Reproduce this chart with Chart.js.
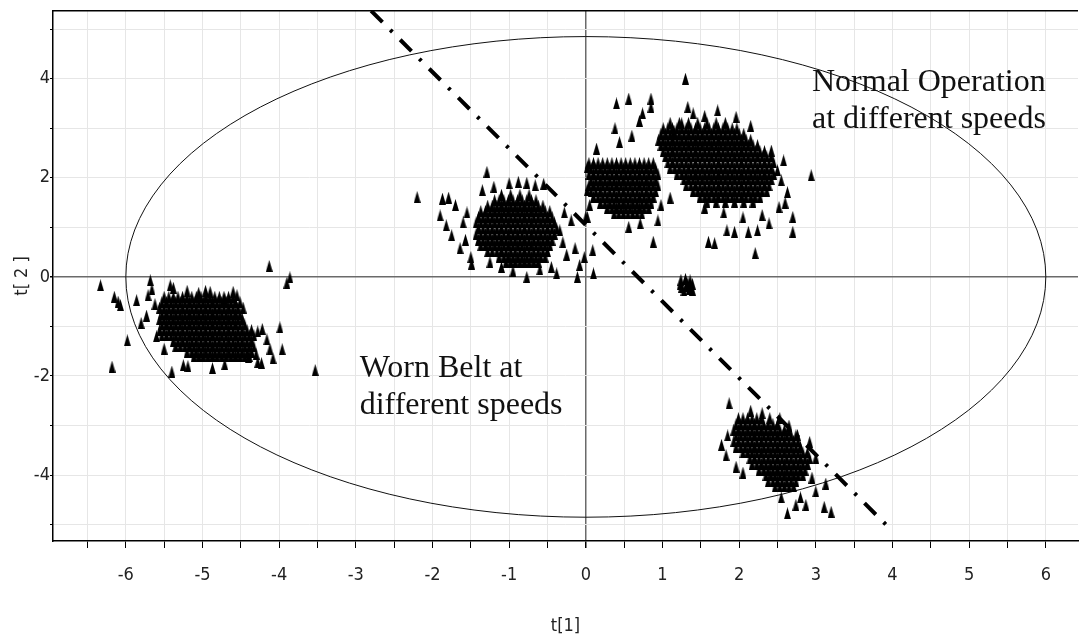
<!DOCTYPE html>
<html>
<head>
<meta charset="utf-8">
<title>t[1] / t[2] score plot</title>
<script src="https://cdn.jsdelivr.net/npm/chart.js@4/dist/chart.umd.min.js"></script>
<style>
  html, body { margin: 0; padding: 0; background: #fff; }
  #scoreChart { display: block; }
</style>
</head>
<body>
<canvas id="scoreChart" width="1083" height="637"></canvas>
<script>
// Datos: cada fila = [y, x1, x2, ...]
var wornLeftRows = [
  [-0.40, -5.50,-5.44,-5.38,-5.32,-5.26,-5.20,-5.14,-5.08,-5.02,-4.96,-4.90,-4.84,-4.78,-4.72,-4.66,-4.60],
  [-0.51, -5.53,-5.47,-5.41,-5.35,-5.29,-5.23,-5.17,-5.11,-5.05,-4.99,-4.93,-4.87,-4.81,-4.75,-4.69,-4.63,-4.57,-4.51],
  [-0.62, -5.56,-5.50,-5.44,-5.38,-5.32,-5.26,-5.20,-5.14,-5.08,-5.02,-4.96,-4.90,-4.84,-4.78,-4.72,-4.66,-4.60,-4.54],
  [-0.74, -5.53,-5.47,-5.41,-5.35,-5.29,-5.23,-5.17,-5.11,-5.05,-4.99,-4.93,-4.87,-4.81,-4.75,-4.69,-4.63,-4.57,-4.51],
  [-0.85, -5.56,-5.50,-5.44,-5.38,-5.32,-5.26,-5.20,-5.14,-5.08,-5.02,-4.96,-4.90,-4.84,-4.78,-4.72,-4.66,-4.60,-4.54,-4.48],
  [-0.96, -5.53,-5.47,-5.41,-5.35,-5.29,-5.23,-5.17,-5.11,-5.05,-4.99,-4.93,-4.87,-4.81,-4.75,-4.69,-4.63,-4.57,-4.51,-4.45],
  [-1.07, -5.56,-5.50,-5.44,-5.38,-5.32,-5.26,-5.20,-5.14,-5.08,-5.02,-4.96,-4.90,-4.84,-4.78,-4.72,-4.66,-4.60,-4.54,-4.48,-4.42,-4.36],
  [-1.18, -5.53,-5.47,-5.41,-5.35,-5.29,-5.23,-5.17,-5.11,-5.05,-4.99,-4.93,-4.87,-4.81,-4.75,-4.69,-4.63,-4.57,-4.51,-4.45,-4.39,-4.33],
  [-1.29, -5.38,-5.32,-5.26,-5.20,-5.14,-5.08,-5.02,-4.96,-4.90,-4.84,-4.78,-4.72,-4.66,-4.60,-4.54,-4.48,-4.42,-4.36],
  [-1.40, -5.35,-5.29,-5.23,-5.17,-5.11,-5.05,-4.99,-4.93,-4.87,-4.81,-4.75,-4.69,-4.63,-4.57,-4.51,-4.45,-4.39,-4.33],
  [-1.51, -5.20,-5.14,-5.08,-5.02,-4.96,-4.90,-4.84,-4.78,-4.72,-4.66,-4.60,-4.54,-4.48,-4.42,-4.36],
  [-1.60, -5.11,-5.05,-4.99,-4.93,-4.87,-4.81,-4.75,-4.69,-4.63,-4.57,-4.51,-4.45,-4.39]
];
var wornLeftScatter = [
  [-6.33,-0.17],[-6.15,-0.40],[-6.10,-0.50],[-6.07,-0.57],[-6.18,-1.81],[-5.98,-1.28],
  [-5.86,-0.47],[-5.80,-0.93],[-5.73,-0.78],[-5.68,-0.07],[-5.66,-0.25],[-5.71,-0.37],
  [-5.62,-0.55],[-5.40,-1.91],[-5.42,-0.17],[-5.38,-0.22],[-4.13,0.22],[-3.90,-0.12],
  [-3.86,-0.01],[-3.99,-1.02],[-3.96,-1.46],[-3.53,-1.88],[-4.08,-1.64],[-4.16,-1.26],
  [-4.23,-1.74],[-4.28,-1.10],[-4.22,-1.05],[-4.55,-0.37],[-4.60,-0.30],[-4.71,-0.45],
  [-4.90,-0.30],[-4.96,-0.28],[-4.47,-0.62],[-4.87,-1.84],[-5.19,-1.80],[-5.25,-1.78],
  [-4.71,-1.76],[-4.28,-1.72],[-4.12,-1.45],[-4.30,-1.55],[-5.60,-1.20],[-5.50,-1.45],
  [-5.05,-0.32],[-5.20,-0.28],[-4.40,-1.62]
];
var wornMidRows = [
  [1.66, -1.10,-0.98,-0.86,-0.74],
  [1.55, -1.19,-1.13,-1.07,-1.01,-0.95,-0.89,-0.83,-0.77,-0.71,-0.65],
  [1.44, -1.28,-1.22,-1.16,-1.10,-1.04,-0.98,-0.92,-0.86,-0.80,-0.74,-0.68,-0.62,-0.56],
  [1.33, -1.37,-1.31,-1.25,-1.19,-1.13,-1.07,-1.01,-0.95,-0.89,-0.83,-0.77,-0.71,-0.65,-0.59,-0.53,-0.47],
  [1.21, -1.40,-1.34,-1.28,-1.22,-1.16,-1.10,-1.04,-0.98,-0.92,-0.86,-0.80,-0.74,-0.68,-0.62,-0.56,-0.50,-0.44],
  [1.10, -1.43,-1.37,-1.31,-1.25,-1.19,-1.13,-1.07,-1.01,-0.95,-0.89,-0.83,-0.77,-0.71,-0.65,-0.59,-0.53,-0.47,-0.41],
  [0.98, -1.40,-1.34,-1.28,-1.22,-1.16,-1.10,-1.04,-0.98,-0.92,-0.86,-0.80,-0.74,-0.68,-0.62,-0.56,-0.50,-0.44,-0.38],
  [0.87, -1.43,-1.37,-1.31,-1.25,-1.19,-1.13,-1.07,-1.01,-0.95,-0.89,-0.83,-0.77,-0.71,-0.65,-0.59,-0.53,-0.47,-0.41],
  [0.75, -1.40,-1.34,-1.28,-1.22,-1.16,-1.10,-1.04,-0.98,-0.92,-0.86,-0.80,-0.74,-0.68,-0.62,-0.56,-0.50,-0.44],
  [0.64, -1.37,-1.31,-1.25,-1.19,-1.13,-1.07,-1.01,-0.95,-0.89,-0.83,-0.77,-0.71,-0.65,-0.59,-0.53,-0.47],
  [0.52, -1.28,-1.22,-1.16,-1.10,-1.04,-0.98,-0.92,-0.86,-0.80,-0.74,-0.68,-0.62,-0.56,-0.50],
  [0.41, -1.13,-1.07,-1.01,-0.95,-0.89,-0.83,-0.77,-0.71,-0.65,-0.59,-0.53],
  [0.31, -1.04,-0.98,-0.92,-0.86,-0.80,-0.74,-0.68,-0.62]
];
var wornMidScatter = [
  [-2.20,1.61],[-1.87,1.58],[-1.79,1.60],[-1.90,1.24],[-1.82,1.04],[-1.75,0.84],
  [-1.64,0.58],[-1.50,0.40],[-1.49,0.27],[-1.29,2.12],[-1.00,1.89],[-0.88,1.92],
  [-0.77,1.90],[-0.66,1.85],[-0.55,1.88],[-0.77,0.00],[-0.38,0.07],[-0.11,0.00],
  [-0.02,0.40],[0.09,0.54],[0.10,0.07],[0.02,1.21],[-0.08,0.24],[-0.14,0.58],
  [-0.19,1.14],[-0.34,0.94],[-0.28,1.30],[-0.30,0.70],[-0.25,0.45],[-1.55,1.30],
  [-1.60,1.10],[-1.57,0.75],[-1.35,1.75],[-1.20,1.82],[-1.10,0.20],[-0.95,0.12],
  [-0.60,0.15],[-0.45,0.20],[-1.70,1.45],[-1.25,0.30]
];
var wornLowRows = [
  [-2.85, 1.99,2.05,2.11,2.17,2.23,2.29],
  [-2.97, 1.96,2.02,2.08,2.14,2.20,2.26,2.32,2.38,2.44,2.50],
  [-3.08, 1.93,1.99,2.05,2.11,2.17,2.23,2.29,2.35,2.41,2.47,2.53,2.59,2.65],
  [-3.20, 1.96,2.02,2.08,2.14,2.20,2.26,2.32,2.38,2.44,2.50,2.56,2.62,2.68,2.74],
  [-3.31, 1.93,1.99,2.05,2.11,2.17,2.23,2.29,2.35,2.41,2.47,2.53,2.59,2.65,2.71,2.77],
  [-3.43, 1.96,2.02,2.08,2.14,2.20,2.26,2.32,2.38,2.44,2.50,2.56,2.62,2.68,2.74,2.80],
  [-3.54, 2.05,2.11,2.17,2.23,2.29,2.35,2.41,2.47,2.53,2.59,2.65,2.71,2.77,2.83,2.89],
  [-3.66, 2.14,2.20,2.26,2.32,2.38,2.44,2.50,2.56,2.62,2.68,2.74,2.80,2.86,2.92],
  [-3.77, 2.17,2.23,2.29,2.35,2.41,2.47,2.53,2.59,2.65,2.71,2.77,2.83,2.89],
  [-3.89, 2.26,2.32,2.38,2.44,2.50,2.56,2.62,2.68,2.74,2.80,2.86],
  [-4.00, 2.35,2.41,2.47,2.53,2.59,2.65,2.71,2.77,2.83],
  [-4.12, 2.38,2.44,2.50,2.56,2.62,2.68,2.74],
  [-4.23, 2.47,2.53,2.59,2.65,2.71]
];
var wornLowScatter = [
  [1.87,-2.55],[1.77,-3.39],[1.83,-3.60],[1.96,-3.83],[2.63,-4.77],[2.87,-4.60],
  [3.11,-4.64],[3.20,-4.74],[3.00,-4.33],[3.13,-4.17],[2.53,-2.85],[2.40,-2.85],
  [2.76,-3.19],[2.92,-3.33],[3.00,-3.65],[2.74,-4.60],[2.15,-2.70],[2.55,-4.45],
  [2.80,-4.45],[1.85,-3.20],[2.05,-3.95],[2.95,-4.05],[2.30,-2.75],[2.65,-3.00]
];
var normalLeftRows = [
  [2.30, 0.04,0.10,0.16,0.22,0.28,0.34,0.40,0.46,0.52,0.58,0.64,0.70,0.76,0.82,0.88],
  [2.19, 0.07,0.13,0.19,0.25,0.31,0.37,0.43,0.49,0.55,0.61,0.67,0.73,0.79,0.85,0.91],
  [2.08, 0.04,0.10,0.16,0.22,0.28,0.34,0.40,0.46,0.52,0.58,0.64,0.70,0.76,0.82,0.88,0.94],
  [1.96, 0.07,0.13,0.19,0.25,0.31,0.37,0.43,0.49,0.55,0.61,0.67,0.73,0.79,0.85,0.91],
  [1.85, 0.04,0.10,0.16,0.22,0.28,0.34,0.40,0.46,0.52,0.58,0.64,0.70,0.76,0.82,0.88,0.94],
  [1.73, 0.07,0.13,0.19,0.25,0.31,0.37,0.43,0.49,0.55,0.61,0.67,0.73,0.79,0.85,0.91],
  [1.62, 0.10,0.16,0.22,0.28,0.34,0.40,0.46,0.52,0.58,0.64,0.70,0.76,0.82,0.88],
  [1.50, 0.19,0.25,0.31,0.37,0.43,0.49,0.55,0.61,0.67,0.73,0.79,0.85],
  [1.39, 0.28,0.34,0.40,0.46,0.52,0.58,0.64,0.70,0.76,0.82],
  [1.28, 0.37,0.43,0.49,0.55,0.61,0.67,0.73]
];
var normalRightRows = [
  [3.11, 1.10,1.22,1.34,1.46,1.58,1.70,1.82],
  [3.00, 1.01,1.07,1.13,1.19,1.25,1.31,1.37,1.43,1.49,1.55,1.61,1.67,1.73,1.79,1.85,1.91,1.97],
  [2.89, 0.98,1.04,1.10,1.16,1.22,1.28,1.34,1.40,1.46,1.52,1.58,1.64,1.70,1.76,1.82,1.88,1.94,2.00,2.06],
  [2.77, 0.95,1.01,1.07,1.13,1.19,1.25,1.31,1.37,1.43,1.49,1.55,1.61,1.67,1.73,1.79,1.85,1.91,1.97,2.03,2.09,2.15],
  [2.66, 0.98,1.04,1.10,1.16,1.22,1.28,1.34,1.40,1.46,1.52,1.58,1.64,1.70,1.76,1.82,1.88,1.94,2.00,2.06,2.12,2.18,2.24],
  [2.54, 1.01,1.07,1.13,1.19,1.25,1.31,1.37,1.43,1.49,1.55,1.61,1.67,1.73,1.79,1.85,1.91,1.97,2.03,2.09,2.15,2.21,2.27,2.33],
  [2.43, 1.04,1.10,1.16,1.22,1.28,1.34,1.40,1.46,1.52,1.58,1.64,1.70,1.76,1.82,1.88,1.94,2.00,2.06,2.12,2.18,2.24,2.30,2.36,2.42],
  [2.31, 1.07,1.13,1.19,1.25,1.31,1.37,1.43,1.49,1.55,1.61,1.67,1.73,1.79,1.85,1.91,1.97,2.03,2.09,2.15,2.21,2.27,2.33,2.39,2.45],
  [2.20, 1.10,1.16,1.22,1.28,1.34,1.40,1.46,1.52,1.58,1.64,1.70,1.76,1.82,1.88,1.94,2.00,2.06,2.12,2.18,2.24,2.30,2.36,2.42],
  [2.08, 1.19,1.25,1.31,1.37,1.43,1.49,1.55,1.61,1.67,1.73,1.79,1.85,1.91,1.97,2.03,2.09,2.15,2.21,2.27,2.33,2.39,2.45],
  [1.97, 1.28,1.34,1.40,1.46,1.52,1.58,1.64,1.70,1.76,1.82,1.88,1.94,2.00,2.06,2.12,2.18,2.24,2.30,2.36,2.42],
  [1.85, 1.31,1.37,1.43,1.49,1.55,1.61,1.67,1.73,1.79,1.85,1.91,1.97,2.03,2.09,2.15,2.21,2.27,2.33,2.39],
  [1.74, 1.40,1.46,1.52,1.58,1.64,1.70,1.76,1.82,1.88,1.94,2.00,2.06,2.12,2.18,2.24,2.30,2.36],
  [1.62, 1.49,1.55,1.61,1.67,1.73,1.79,1.85,1.91,1.97,2.03,2.09,2.15,2.21,2.27],
  [1.52, 1.58,1.70,1.82,1.94,2.06,2.18]
];
var normalScatter = [
  [0.40,3.50],[0.56,3.60],[0.85,3.60],[0.85,3.43],[0.74,3.30],[0.70,3.15],[0.38,3.00],
  [0.44,2.72],[0.60,2.85],[0.14,2.59],[0.02,2.22],[0.88,0.71],[0.00,1.21],[0.56,1.01],
  [0.71,1.08],[0.94,1.14],[0.05,1.45],[0.02,1.75],[1.30,4.00],[1.33,3.43],[1.40,3.30],
  [1.55,3.25],[1.72,3.36],[1.96,3.23],[2.15,3.05],[2.94,2.05],[2.70,1.21],[2.70,0.91],
  [2.58,2.35],[2.63,1.71],[2.55,1.95],[2.21,0.48],[1.60,0.71],[1.68,0.68],[1.84,0.94],
  [1.94,0.91],[2.12,0.91],[2.24,0.94],[2.39,1.08],[2.52,1.41],[2.42,2.55],[2.50,2.15],
  [2.60,1.50],[2.30,1.25],[2.05,1.20],[1.80,1.30],[1.55,1.40],[1.10,1.60],[0.98,1.45],
  [1.25,3.10],[1.15,2.95]
];
var smallBlob = [
  [1.24,-0.06],[1.30,-0.04],[1.36,-0.07],[1.39,-0.14],[1.31,-0.18],[1.25,-0.20],
  [1.35,-0.24],[1.39,-0.26],[1.28,-0.27],[1.33,-0.13],[1.23,-0.15],[1.37,-0.19]
];

// Ejes: marcas y etiquetas
var xTicks = [-6.5,-6,-5.5,-5,-4.5,-4,-3.5,-3,-2.5,-2,-1.5,-1,-0.5,0,0.5,1,1.5,2,2.5,3,3.5,4,4.5,5,5.5,6];
var yTicks = [-5,-4,-3,-2,-1,0,1,2,3,4,5];

// Linea divisoria (raya-punto) y elipse de confianza
var dividerX = [-2.8, 4.0];
var dividerY = [5.37, -5.13];
var ellipseRadius = [6.0, 4.85];

// Textos
var normalLabel = ['Normal Operation', 'at different speeds'];
var normalLabelAt = [2.95, 3.76];
var wornLabel = ['Worn Belt at', 'different speeds'];
var wornLabelAt = [-2.95, -2.03];

var xTitle = 't[1]';
var yTitle = 't[ 2 ]';

function fromRows(rows) {
  var pts = [];
  rows.forEach(function (r) {
    for (var i = 1; i < r.length; i++) pts.push({ x: r[i], y: r[0] });
  });
  return pts;
}
function fromPairs(list) {
  return list.map(function (p) { return { x: p[0], y: p[1] }; });
}

// Marcador: triangulo negro alargado
var tri = document.createElement('canvas');
tri.width = 7;
tri.height = 12;
var tc = tri.getContext('2d');
tc.beginPath();
tc.moveTo(3.5, 0);
tc.lineTo(7, 12);
tc.lineTo(0, 12);
tc.closePath();
tc.fillStyle = '#000';
tc.fill();

var wornPts = fromRows(wornLeftRows).concat(fromPairs(wornLeftScatter),
  fromRows(wornMidRows), fromPairs(wornMidScatter),
  fromRows(wornLowRows), fromPairs(wornLowScatter));
var normalPts = fromRows(normalLeftRows).concat(fromRows(normalRightRows), fromPairs(normalScatter));
var blobPts = fromPairs(smallBlob);

var narrow = "'Liberation Sans Narrow', 'Arial Narrow', 'DejaVu Sans Condensed', 'DejaVu Sans', sans-serif";
var xTickFont = { family: narrow, size: 18, lineHeight: 3 };
var yTickFont = { family: narrow, size: 18 };
var titleFont = { family: narrow, size: 18 };
var serif = '"Liberation Serif", "Times New Roman", serif';

function gridColor(c) { return c.tick && c.tick.value === 0 ? '#6a6a6a' : '#e6e6e6'; }
function gridWidth(c) { return c.tick && c.tick.value === 0 ? 1.5 : 1; }

// letras estrechas para los ejes (si el navegador lo admite)
function condensed(chart) { if ('fontStretch' in chart.ctx) chart.ctx.fontStretch = 'condensed'; }

var overlay = {
  id: 'overlay',
  beforeInit: condensed,
  beforeLayout: condensed,
  beforeDraw: condensed,
  beforeDatasetsDraw: function (chart) {
    var ctx = chart.ctx, xs = chart.scales.x, ys = chart.scales.y, a = chart.chartArea;
    var cx = xs.getPixelForValue(0), cy = ys.getPixelForValue(0);
    var rx = xs.getPixelForValue(ellipseRadius[0]) - cx;
    var ry = cy - ys.getPixelForValue(ellipseRadius[1]);
    ctx.save();
    ctx.beginPath();
    ctx.rect(a.left, a.top, a.right - a.left, a.bottom - a.top);
    ctx.clip();
    ctx.beginPath();
    ctx.ellipse(cx, cy, rx, ry, 0, 0, Math.PI * 2);
    ctx.strokeStyle = '#111';
    ctx.lineWidth = 1;
    ctx.stroke();
    ctx.restore();
  },
  afterDatasetsDraw: function (chart) {
    var ctx = chart.ctx, xs = chart.scales.x, ys = chart.scales.y, a = chart.chartArea;
    ctx.save();
    // borde superior
    ctx.beginPath();
    ctx.moveTo(a.left, a.top);
    ctx.lineTo(a.right, a.top);
    ctx.strokeStyle = '#000';
    ctx.lineWidth = 1.5;
    ctx.stroke();
    // textos
    if ('fontStretch' in ctx) ctx.fontStretch = 'normal';
    ctx.font = '32px ' + serif;
    ctx.fillStyle = '#111';
    ctx.textAlign = 'left';
    ctx.textBaseline = 'alphabetic';
    normalLabel.forEach(function (t, i) {
      ctx.fillText(t, xs.getPixelForValue(normalLabelAt[0]), ys.getPixelForValue(normalLabelAt[1]) + i * 37);
    });
    wornLabel.forEach(function (t, i) {
      ctx.fillText(t, xs.getPixelForValue(wornLabelAt[0]), ys.getPixelForValue(wornLabelAt[1]) + i * 37);
    });
    ctx.restore();
  }
};

var ctx = document.getElementById('scoreChart').getContext('2d');
var scoreChart = new Chart(ctx, {
  type: 'scatter',
  data: {
    datasets: [
      { label: 'Worn belt', data: wornPts, pointStyle: tri, pointRadius: 4, order: 2 },
      { label: 'Normal operation', data: normalPts, pointStyle: tri, pointRadius: 4, order: 2 },
      { label: 'Other', data: blobPts, pointStyle: tri, pointRadius: 4, order: 2 },
      {
        type: 'line',
        label: 'Divider',
        data: [{ x: dividerX[0], y: dividerY[0] }, { x: dividerX[1], y: dividerY[1] }],
        borderColor: '#000',
        borderWidth: 4,
        borderDash: [16, 11, 3, 11],
        pointRadius: 0,
        fill: false,
        order: 1
      }
    ]
  },
  options: {
    responsive: false,
    animation: false,
    layout: { padding: { top: 10, right: 0, bottom: 0, left: 0 } },
    plugins: { legend: { display: false }, tooltip: { enabled: false } },
    scales: {
      x: {
        type: 'linear',
        bounds: 'data',
        min: -6.95,
        max: 6.42,
        afterBuildTicks: function (s) { s.ticks = xTicks.map(function (v) { return { value: v }; }); },
        afterFit: function (s) { s.height = 96; },
        ticks: {
          autoSkip: false,
          maxRotation: 0,
          padding: 0,
          color: '#222',
          font: xTickFont,
          callback: function (v) { return Number.isInteger(v) ? String(v) : ''; }
        },
        grid: { color: gridColor, lineWidth: gridWidth, tickColor: '#000', tickLength: 7 },
        border: { color: '#000', width: 1.5 },
        title: { display: true, text: xTitle, color: '#222', font: titleFont, padding: { top: 0, bottom: 0 } }
      },
      y: {
        type: 'linear',
        bounds: 'data',
        min: -5.33,
        max: 5.37,
        afterBuildTicks: function (s) { s.ticks = yTicks.map(function (v) { return { value: v }; }); },
        afterFit: function (s) { s.width = 53; },
        ticks: {
          autoSkip: false,
          padding: 0,
          color: '#222',
          font: yTickFont,
          callback: function (v) { return v % 2 === 0 ? String(v) : ''; }
        },
        grid: { color: gridColor, lineWidth: gridWidth, tickColor: '#000', tickLength: 3 },
        border: { color: '#000', width: 1.5 },
        title: { display: true, text: yTitle, color: '#222', font: titleFont, padding: { top: 12, bottom: 0 } }
      }
    }
  },
  plugins: [overlay]
});
</script>
</body>
</html>
